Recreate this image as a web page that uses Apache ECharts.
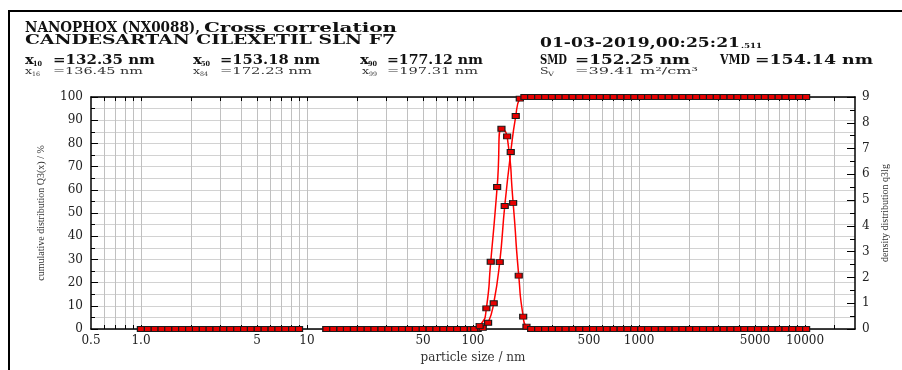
<!DOCTYPE html>
<html><head><meta charset="utf-8">
<script src="https://cdn.jsdelivr.net/npm/echarts@6/dist/echarts.min.js"></script>
<style>html,body{margin:0;padding:0;background:#fff}#c{width:902px;height:370px}</style>
</head><body><div id="c"></div>
<script>
// ---- data ----
const sizeCum = [1.0,1.1,1.21,1.33,1.46,1.61,1.77,1.95,2.14,2.36,2.59,2.85,3.14,3.45,3.8,4.18,4.59,5.05,5.56,6.12,6.73,7.4,8.14,8.95,
  11,
  13.1,14.4,15.9,17.4,19.2,21.1,23.2,25.5,28.1,30.9,34.0,37.4,41.1,45.3,49.8,54.8,60.2,66.3,72.9,80.2,88.2,97.0,106.7,
  114.5,123.3,133.3,144.9,155.3,168.8,180.9,191.3,
  204,224,247,272,299,329,361,398,437,481,529,582,640,704,775,852,937,1031,1134,1248,1372,1510,1661,1827,2009,2210,2431,2674,2942,3236,3559,3915,4307,4738,5211,5733,6306,6936,7630,8393,9232,10155];
const cumQ3 = [0,0,0,0,0,0,0,0,0,0,0,0,0,0,0,0,0,0,0,0,0,0,0,0,
  null,
  0,0,0,0,0,0,0,0,0,0,0,0,0,0,0,0,0,0,0,0,0,0,0,
  0.5,2.7,11.1,28.8,53.0,76.3,91.8,99.3,
  100,100,100,100,100,100,100,100,100,100,100,100,100,100,100,100,100,100,100,100,100,100,100,100,100,100,100,100,100,100,100,100,100,100,100,100,100,100,100,100,100,100];
const sizeDens = [1.0,1.1,1.21,1.33,1.46,1.61,1.77,1.95,2.14,2.36,2.59,2.85,3.14,3.45,3.8,4.18,4.59,5.05,5.56,6.12,6.73,7.4,8.14,8.95,
  11,
  13.1,14.4,15.9,17.4,19.2,21.1,23.2,25.5,28.1,30.9,34.0,37.4,41.1,45.3,49.8,54.8,60.2,66.3,72.9,80.2,88.2,97.0,
  101.7,109.7,120.4,127.9,139.8,148.4,160.6,174.5,188.6,200.6,209.9,
  224,247,272,299,329,361,398,437,481,529,582,640,704,775,852,937,1031,1134,1248,1372,1510,1661,1827,2009,2210,2431,2674,2942,3236,3559,3915,4307,4738,5211,5733,6306,6936,7630,8393,9232,10155];
const densQ3 = [0,0,0,0,0,0,0,0,0,0,0,0,0,0,0,0,0,0,0,0,0,0,0,0,
  null,
  0,0,0,0,0,0,0,0,0,0,0,0,0,0,0,0,0,0,0,0,0,0,
  0,0.12,0.80,2.61,5.51,7.77,7.47,4.89,2.07,0.48,0.09,
  0,0,0,0,0,0,0,0,0,0,0,0,0,0,0,0,0,0,0,0,0,0,0,0,0,0,0,0,0,0,0,0,0,0,0,0,0,0,0,0,0];
const xLabelValues = [0.5,1,5,10,50,100,500,1000,5000,10000];
const xGridValues = [0.6,0.7,0.8,0.9,1,2,3,4,5,6,7,8,9,10,20,30,40,50,60,70,80,90,100,200,300,400,500,600,700,800,900,1000,2000,3000,4000,5000,6000,7000,8000,9000,10000,15000];
const cumAxisName = 'cumulative distribution Q3(x) / %';
const densAxisName = 'density distribution q3lg';
const xAxisName = 'particle size / nm';

// ---- header text helper (fits measured width) ----
const mctx = document.createElement('canvas').getContext('2d');
function T(text, x, cy, w, font, fill, scale) {
  mctx.font = font;
  const mw = mctx.measureText(text).width;
  const s = w ? w / mw : (scale || 1);
  return {type:'text', x:x, y:cy, scaleX:s, silent:true, z:10,
    style:{text:text, font:font, fill:fill||'#111', align:'left', verticalAlign:'middle', textAlign:'left', textVerticalAlign:'middle'}};
}
const SF = '"DejaVu Serif"';
const B14 = 'bold 14px '+SF, B13 = 'bold 13px '+SF, B12 = 'bold 12px '+SF, B7 = 'bold 7px '+SF;
const R10 = '10px '+SF, R6 = '6px '+SF;
const gfx = [
  {type:'rect', shape:{x:8,y:10,width:894,height:2}, style:{fill:'#000'}, silent:true},
  {type:'rect', shape:{x:8,y:10,width:2,height:360}, style:{fill:'#000'}, silent:true},
  T('NANOPHOX (NX0088),', 25, 28, 175, B14),
  T('Cross correlation', 204, 29, 193, B12),
  T('CANDESARTAN CILEXETIL SLN F7', 25, 40.5, 370, B13),
  T('01-03-2019,00:25:21', 540, 44, 200, B13),
  T('.511', 741, 46.5, 21, B7),
  T('x', 25, 61, null, B12, '#111', 1.25), T('10', 33, 64, 9, B7),
  T('=132.35 nm', 53, 60.5, 102, B12),
  T('x', 193, 61, null, B12, '#111', 1.25), T('50', 201, 64, 9, B7),
  T('=153.18 nm', 220, 60.5, 100, B12),
  T('x', 360, 61, null, B12, '#111', 1.25), T('90', 368, 64, 9, B7),
  T('=177.12 nm', 387, 60.5, 96, B12),
  T('SMD', 540, 60.5, 27, B12),
  T('=152.25 nm', 575, 60.5, 115, B12),
  T('VMD', 720, 60.5, 30, B12),
  T('=154.14 nm', 755, 60.5, 118, B12),
  T('x', 25, 71.5, null, R10, '#333', 1.25), T('16', 32, 74, 8, R6, '#333'),
  T('=136.45 nm', 53, 71.5, 90, R10, '#333'),
  T('x', 193, 71.5, null, R10, '#333', 1.25), T('84', 200, 74, 8, R6, '#333'),
  T('=172.23 nm', 220, 71.5, 92, R10, '#333'),
  T('x', 362, 71.5, null, R10, '#333', 1.25), T('99', 369, 74, 8, R6, '#333'),
  T('=197.31 nm', 387, 71.5, 91, R10, '#333'),
  T('S', 540, 71.5, null, R10, '#333', 1.25), T('V', 548, 74, 6, R6, '#333'),
  T('=39.41 m²/cm³', 575, 71.5, 123, R10, '#333')
];

function fmtX(v) { const r = +(+v).toPrecision(6); return r === 1 ? '1.0' : String(r); }
const axisLineStyle = {color:'#000', width:1.5};
const labelStyle = {fontFamily:'DejaVu Serif', fontSize:12, color:'#222'};
const nameStyle = {fontFamily:'Liberation Serif', fontSize:10, color:'#333'};
const lineSeries = (name, xs, ys, yIdx, sm) => ({
  type:'line', name:name, xAxisIndex:0, yAxisIndex:yIdx,
  data: xs.map((s,i)=>[s, ys[i]]),
  smooth:sm, symbol:'rect', symbolSize:[7,5], showAllSymbol:true, connectNulls:false,
  lineStyle:{color:'#ff0000', width:1.5},
  itemStyle:{color:'#e60000', borderColor:'#1a1a1a', borderWidth:1},
  emphasis:{disabled:true}, z:3, animation:false
});

const chart = echarts.init(document.getElementById('c'), null, {renderer:'canvas'});
chart.setOption({
  backgroundColor:'#fff',
  animation:false,
  grid:{left:91, right:47, top:97, bottom:41, containLabel:false, outerBoundsMode:'none'},
  xAxis:[{
    type:'log', logBase:10, min:0.5, max:20000, position:'bottom',
    name:xAxisName, nameLocation:'middle', nameGap:21,
    nameTextStyle:{fontFamily:'DejaVu Serif', fontSize:12, color:'#333'},
    axisLine:{show:true, onZero:false, lineStyle:axisLineStyle},
    axisTick:{show:true, inside:true, length:4, customValues:xGridValues, lineStyle:{color:'#000'}},
    axisLabel:Object.assign({show:true, customValues:xLabelValues, margin:6, formatter:fmtX}, labelStyle),
    splitLine:{show:true, lineStyle:{color:'#c0c0c0', width:1}},
    minorTick:{show:false}, minorSplitLine:{show:false}
  },{
    type:'log', logBase:10, min:0.5, max:20000, position:'top',
    axisLine:{show:true, onZero:false, lineStyle:axisLineStyle},
    axisTick:{show:true, inside:true, length:4, customValues:xGridValues, lineStyle:{color:'#000'}},
    axisLabel:{show:false}, splitLine:{show:false}
  }],
  yAxis:[{
    type:'value', min:0, max:100, interval:10, position:'left',
    name:cumAxisName, nameLocation:'middle', nameGap:45, nameRotate:90, nameTextStyle:nameStyle,
    axisLine:{show:true, onZero:false, lineStyle:axisLineStyle},
    axisTick:{show:true, inside:true, length:7, lineStyle:{color:'#000'}},
    minorTick:{show:true, splitNumber:2, length:4, lineStyle:{color:'#000'}},
    axisLabel:Object.assign({margin:8}, labelStyle),
    splitLine:{show:true, lineStyle:{color:'#d2d2d2'}},
    minorSplitLine:{show:true, lineStyle:{color:'#d2d2d2'}}
  },{
    type:'value', min:0, max:9, interval:1, position:'right',
    name:densAxisName, nameLocation:'middle', nameGap:22, nameRotate:90, nameTextStyle:nameStyle,
    axisLine:{show:true, onZero:false, lineStyle:axisLineStyle},
    axisTick:{show:true, inside:true, length:8, lineStyle:{color:'#000'}},
    minorTick:{show:true, splitNumber:2, length:5, lineStyle:{color:'#000'}},
    axisLabel:Object.assign({margin:7}, labelStyle),
    splitLine:{show:false}, minorSplitLine:{show:false}
  }],
  series:[
    lineSeries('Q3', sizeCum, cumQ3, 0, 0.5),
    lineSeries('q3', sizeDens, densQ3, 1, 0.7)
  ],
  graphic:gfx
});
</script>
</body></html>
